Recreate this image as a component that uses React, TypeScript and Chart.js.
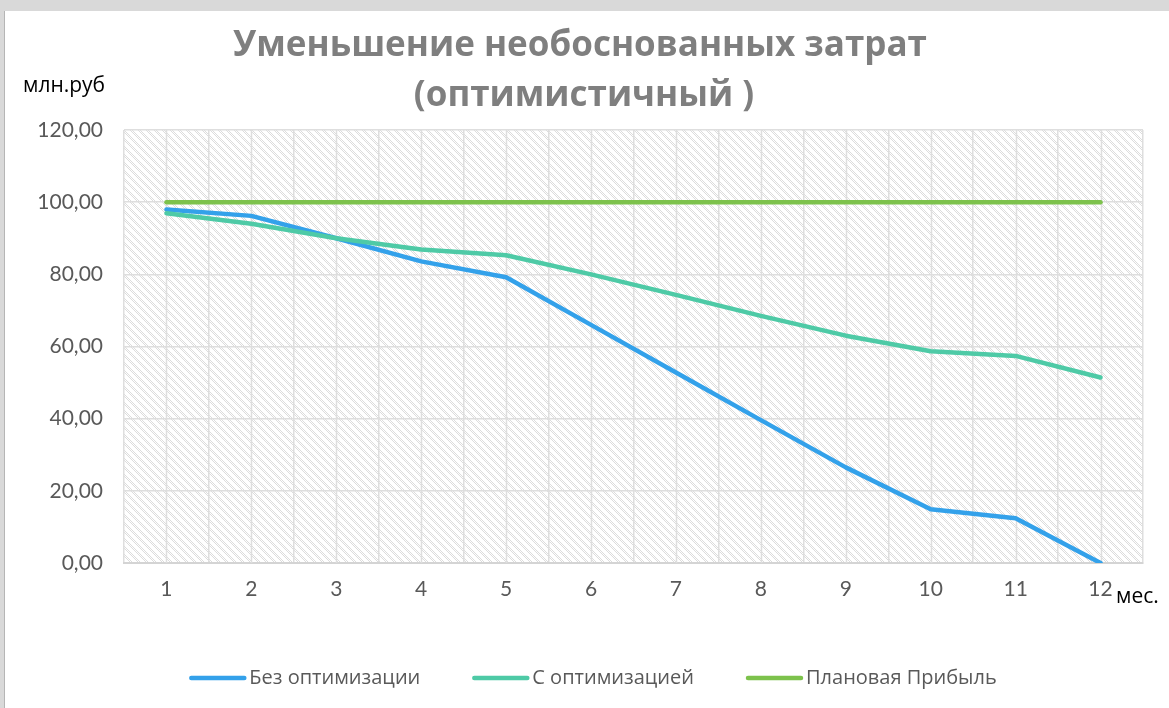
import React, { useEffect, useRef } from "react";
import { Chart, registerables } from "chart.js";

Chart.register(...registerables);

const months = ["1", "2", "3", "4", "5", "6", "7", "8", "9", "10", "11", "12"];
const withoutOptimization = [98.0, 96.2, 90.0, 83.6, 79.2, 66.0, 52.8, 39.6, 26.5, 14.9, 12.4, 0.0];
const withOptimization = [96.9, 94.0, 90.0, 86.9, 85.3, 80.0, 74.3, 68.5, 63.0, 58.7, 57.4, 51.4];
const plannedProfit = [100, 100, 100, 100, 100, 100, 100, 100, 100, 100, 100, 100];
const seriesNames = ["Без оптимизации", "С оптимизацией", "Плановая Прибыль"];
const seriesColors = ["#33a1ea", "#4ecaa6", "#7dc24c"];
const titleLines = ["Уменьшение необоснованных затрат", "(оптимистичный )"];
const yUnit = "млн.руб";
const xUnit = "мес.";

const TICK_FONT = '"Lato", "DejaVu Sans", sans-serif';
const TEXT_FONT = '"Open Sans", "DejaVu Sans", sans-serif';

function makePattern(ctx: CanvasRenderingContext2D) {
  const c = document.createElement("canvas");
  c.width = 8;
  c.height = 8;
  const p = c.getContext("2d")!;
  p.fillStyle = "#ffffff";
  p.fillRect(0, 0, 8, 8);
  p.fillStyle = "#dcdcdc";
  for (let y = 0; y < 8; y++) {
    for (let x = 0; x < 8; x++) {
      const d = (x - y + 16) % 8;
      if (d < 4 && (x + y) % 2 === 0) p.fillRect(x, y, 1, 1);
    }
  }
  return ctx.createPattern(c, "repeat");
}

const backgroundPlugin = {
  id: "hatchBg",
  beforeDraw(chart: any) {
    const { ctx, chartArea } = chart;
    const pat = makePattern(ctx);
    ctx.save();
    ctx.fillStyle = pat || "#f4f4f4";
    ctx.fillRect(chartArea.left, chartArea.top, chartArea.right - chartArea.left, chartArea.bottom - chartArea.top);
    ctx.restore();
  },
};

const centerGridPlugin = {
  id: "centerGrid",
  beforeDatasetsDraw(chart: any) {
    const { ctx, chartArea, scales } = chart;
    const x = scales.x;
    ctx.save();
    ctx.strokeStyle = "#dedede";
    ctx.lineWidth = 1.5;
    for (let i = 0; i < months.length; i++) {
      const px = Math.round(x.getPixelForTick(i)) + 0.5;
      ctx.beginPath();
      ctx.moveTo(px, chartArea.top);
      ctx.lineTo(px, chartArea.bottom);
      ctx.stroke();
    }
    ctx.restore();
  },
};

const textPlugin = {
  id: "texts",
  afterDraw(chart: any) {
    const { ctx } = chart;
    ctx.save();
    ctx.fillStyle = "#7f7f7f";
    ctx.font = `bold 35px ${TEXT_FONT}`;
    ctx.textAlign = "center";
    ctx.textBaseline = "alphabetic";
    ctx.fillText(titleLines[0], 580, 56);
    ctx.fillText(titleLines[1], 584, 106);
    ctx.fillStyle = "#000000";
    ctx.font = `21px ${TEXT_FONT}`;
    ctx.textAlign = "left";
    ctx.fillText(yUnit, 23, 92);
    ctx.fillText(xUnit, 1116, 603);
    ctx.font = `20px ${TEXT_FONT}`;
    const sample = 53;
    const gapText = 5;
    const gapItem = 54;
    const widths = chart.data.datasets.map((d: any) => sample + gapText + ctx.measureText(d.label).width);
    const total = widths.reduce((a: number, b: number) => a + b, 0) + gapItem * (widths.length - 1);
    let x = 594 - total / 2;
    const y = 678;
    chart.data.datasets.forEach((d: any, i: number) => {
      ctx.strokeStyle = d.borderColor;
      ctx.lineWidth = 4.5;
      ctx.lineCap = "round";
      ctx.beginPath();
      ctx.moveTo(x, y);
      ctx.lineTo(x + sample, y);
      ctx.stroke();
      ctx.fillStyle = "#595959";
      ctx.textBaseline = "middle";
      ctx.fillText(d.label, x + sample + gapText, y);
      x += widths[i] + gapItem;
    });
    ctx.restore();
  },
};

export default function App() {
  const ref = useRef<HTMLCanvasElement | null>(null);

  useEffect(() => {
    if (!ref.current) return;
    const chart = new Chart(ref.current, {
      type: "line",
      data: {
        labels: months,
        datasets: [
          {
            label: seriesNames[0],
            data: withoutOptimization,
            borderColor: seriesColors[0],
            backgroundColor: seriesColors[0],
            borderWidth: 4.5,
            pointRadius: 0,
            tension: 0,
            borderCapStyle: "round",
            borderJoinStyle: "round",
            order: 2,
          },
          {
            label: seriesNames[1],
            data: withOptimization,
            borderColor: seriesColors[1],
            backgroundColor: seriesColors[1],
            borderWidth: 4.5,
            pointRadius: 0,
            tension: 0,
            borderCapStyle: "round",
            borderJoinStyle: "round",
            order: 1,
          },
          {
            label: seriesNames[2],
            data: plannedProfit,
            borderColor: seriesColors[2],
            backgroundColor: seriesColors[2],
            borderWidth: 4.5,
            pointRadius: 0,
            tension: 0,
            borderCapStyle: "round",
            order: 0,
          },
        ],
      },
      options: {
        responsive: false,
        animation: false,
        layout: { padding: { top: 130, left: 0, right: 26, bottom: 0 } },
        plugins: {
          legend: { display: false },
          title: { display: false },
          tooltip: { enabled: false },
        },
        scales: {
          x: {
            type: "category",
            offset: true,
            grid: { offset: true, color: "#dedede", lineWidth: 1.5, drawTicks: false },
            border: { color: "#d4d4d4", width: 2 },
            ticks: {
              color: "#595959",
              font: { family: TICK_FONT, size: 21 },
              padding: 14,
              maxRotation: 0,
            },
            afterFit: (s: any) => {
              s.height = 145;
            },
          },
          y: {
            min: 0,
            max: 120,
            grid: { color: "#dedede", lineWidth: 1.5, drawTicks: false },
            border: { display: false },
            ticks: {
              stepSize: 20,
              color: "#595959",
              font: { family: TICK_FONT, size: 21 },
              padding: 21,
              callback: (v: any) => Number(v).toFixed(2).replace(".", ","),
            },
            afterFit: (s: any) => {
              s.width = 124;
            },
          },
        },
      },
      plugins: [backgroundPlugin, centerGridPlugin, textPlugin],
    });
    return () => chart.destroy();
  }, []);

  return (
    <div style={{ position: "fixed", left: 0, top: 0, width: 1169, height: 708, background: "#d9d9d9", overflow: "hidden" }}>
      <div style={{ position: "absolute", left: 4, top: 11, right: 0, bottom: 0, background: "#ffffff", borderLeft: "1px solid #b5b5b5" }} />
      <canvas ref={ref} width={1169} height={708} style={{ position: "absolute", left: 0, top: 0 }} />
    </div>
  );
}
